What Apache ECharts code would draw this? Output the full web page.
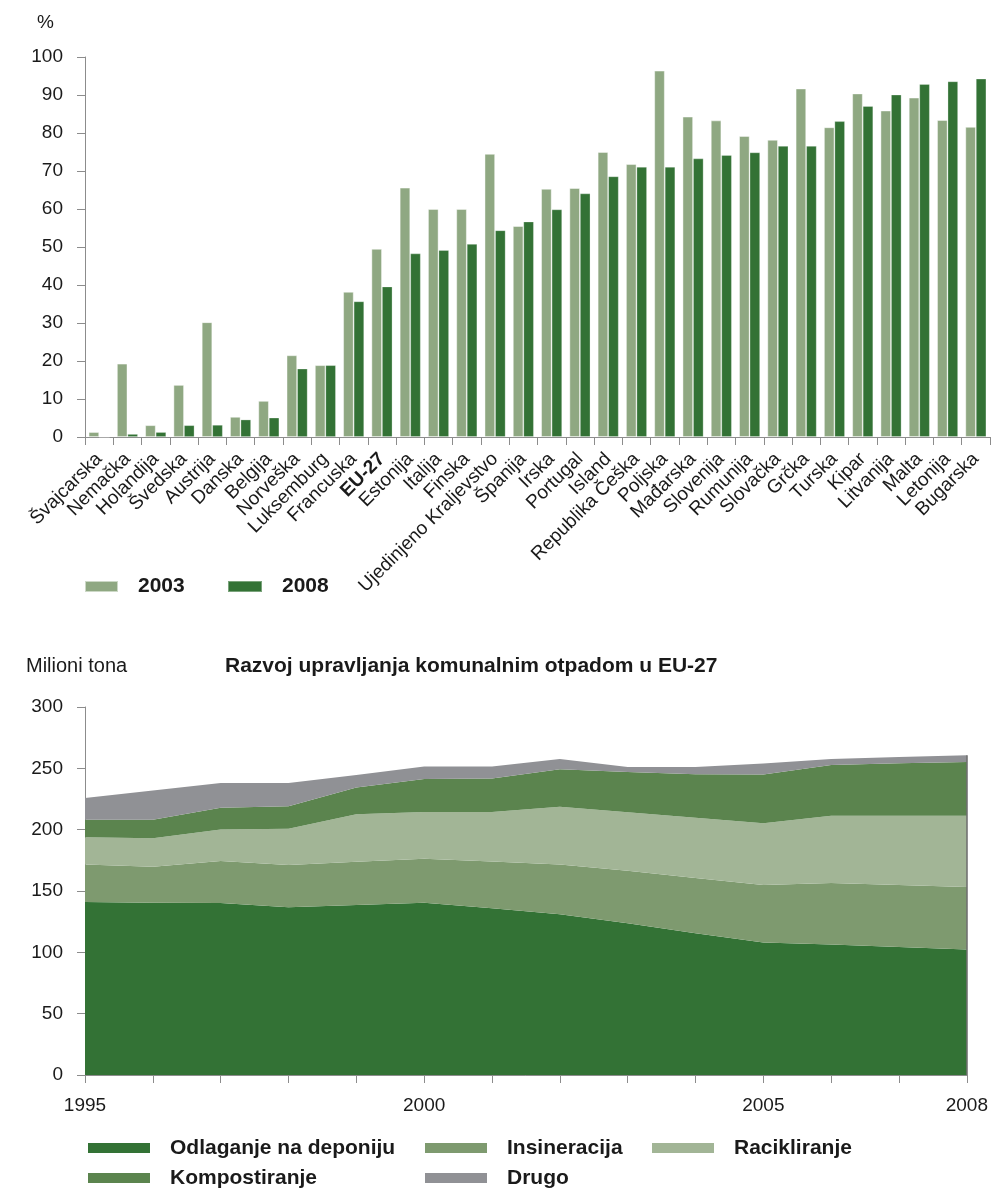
<!DOCTYPE html>
<html>
<head>
<meta charset="utf-8">
<script src="https://cdn.jsdelivr.net/npm/echarts@6/dist/echarts.min.js"></script>
<style>
html,body{margin:0;padding:0;background:#fff;}
#c{width:991px;height:1189px;}
</style>
</head>
<body>
<div id="c"></div>
<script>
// ---- Top chart data (%) ----
const countries = ['Švajcarska','Nemačka','Holandija','Švedska','Austrija','Danska','Belgija','Norveška','Luksemburg','Francuska','EU-27','Estonija','Italija','Finska','Ujedinjeno Kraljevstvo','Španija','Irska','Portugal','Island','Republika Češka','Poljska','Mađarska','Slovenija','Rumunija','Slovačka','Grčka','Turska','Kipar','Litvanija','Malta','Letonija','Bugarska'];
const values2003 = [1.3,19.3,3.1,13.7,30.2,5.3,9.5,21.5,18.9,38.2,49.5,65.6,60.0,60.0,74.5,55.5,65.3,65.5,75.0,71.8,96.4,84.3,83.3,79.2,78.2,91.7,81.5,90.4,85.9,89.3,83.4,81.6];
const values2008 = [0,0.8,1.3,3.1,3.2,4.6,5.1,18.0,18.9,35.7,39.6,48.3,49.2,50.8,54.4,56.7,59.9,64.1,68.6,71.1,71.1,73.3,74.2,74.9,76.6,76.6,83.1,87.1,90.1,92.9,93.6,94.3];
const topTicks = [0,10,20,30,40,50,60,70,80,90,100];

// ---- Bottom chart data (million tonnes) ----
const years = ['1995','1996','1997','1998','1999','2000','2001','2002','2003','2004','2005','2006','2007','2008'];
const yearLabels = ['1995','2000','2005','2008'];
const deponija = [141.0,140.5,140.2,136.7,138.6,140.5,135.9,131.0,123.7,115.5,108.0,106.3,104.4,102.3];
const insineracija = [30.7,29.3,34.2,34.4,35.3,35.8,38.2,40.7,42.8,45.1,46.9,50.2,50.5,50.9];
const recikliranje = [22.2,23.3,25.8,29.6,38.7,38.2,40.4,46.9,47.8,49.1,50.4,54.8,56.4,58.1];
const kompostiranje = [14.1,14.9,17.6,18.4,21.7,26.9,27.2,30.7,32.8,35.5,39.6,41.5,42.8,43.9];
const drugo = [17.9,23.9,20.3,19.0,10.3,10.0,9.7,8.4,4.0,5.9,9.0,4.9,5.2,5.4];

const FONT = '"Liberation Sans", Arial, Helvetica, sans-serif';
const TXT = '#1a1a1a';
const AX = '#8c8c8c';
const C2003 = '#8fa882', C2008 = '#337235';
const CDEP = '#337235', CINS = '#7e9a6f', CREC = '#a2b596', CKOM = '#5b844e', CDRU = '#909195';

const lastIdx = years.length - 1;
const lastTotal = deponija[lastIdx] + insineracija[lastIdx] + recikliranje[lastIdx] + kompostiranje[lastIdx] + drugo[lastIdx];

function legendAt(name, left, top, w, h) {
  return {
    data: [name], left: left, top: top, padding: 0, orient: 'horizontal',
    itemWidth: w, itemHeight: h, icon: 'rect', selectedMode: false,
    textStyle: { fontFamily: FONT, fontSize: 21, fontWeight: 'bold', color: TXT, padding: [0,0,0,15], lineHeight: 24 }
  };
}

const chart = echarts.init(document.getElementById('c'), null, { renderer: 'canvas' });
chart.setOption({
  animation: false,
  textStyle: { fontFamily: FONT },
  graphic: [
    { type: 'text', left: 37, top: 13, style: { text: '%', fontFamily: FONT, fontSize: 19, fill: TXT } },
    { type: 'text', left: 26, top: 656, style: { text: 'Milioni tona', fontFamily: FONT, fontSize: 20, fill: TXT } },
    { type: 'text', left: 225, top: 656, style: { text: 'Razvoj upravljanja komunalnim otpadom u EU-27', fontFamily: FONT, fontSize: 21, fontWeight: 'bold', fill: TXT } }
  ],
  legend: [
    legendAt('2003', 84, 574.5, 33, 11),
    legendAt('2008', 227, 574.5, 34, 11),
    legendAt('Odlaganje na deponiju', 88, 1136, 62, 10),
    legendAt('Insineracija', 425, 1136, 62, 10),
    legendAt('Racikliranje', 652, 1136, 62, 10),
    legendAt('Kompostiranje', 88, 1166, 62, 10),
    legendAt('Drugo', 425, 1166, 62, 10)
  ],
  grid: [
    { left: 85, top: 57, width: 905, height: 380 },
    { left: 85, top: 707, width: 884, height: 368 }
  ],
  xAxis: [
    {
      type: 'category', gridIndex: 0, data: countries, boundaryGap: true,
      axisLine: { lineStyle: { color: AX, width: 1 } },
      axisTick: { show: true, length: 8, interval: 0, lineStyle: { color: AX } },
      axisLabel: {
        interval: 0, rotate: 45, margin: 19, fontFamily: FONT, fontSize: 19, color: TXT,
        formatter: v => v === 'EU-27' ? '{b|EU-27}' : v,
        rich: { b: { fontFamily: FONT, fontSize: 19, fontWeight: 'bold', color: TXT } }
      }
    },
    {
      type: 'category', gridIndex: 1, data: years, boundaryGap: false,
      axisLine: { lineStyle: { color: AX, width: 1 } },
      axisTick: { show: true, length: 8, interval: 0, lineStyle: { color: AX } },
      axisLabel: {
        margin: 21, fontFamily: FONT, fontSize: 19, color: TXT,
        interval: (i, v) => yearLabels.indexOf(v) >= 0
      }
    }
  ],
  yAxis: [
    {
      type: 'value', gridIndex: 0, min: topTicks[0], max: topTicks[topTicks.length-1], interval: 10,
      axisLine: { show: true, lineStyle: { color: AX } },
      axisTick: { show: true, length: 8, lineStyle: { color: AX } },
      splitLine: { show: false },
      axisLabel: { margin: 22, fontFamily: FONT, fontSize: 19, color: TXT }
    },
    {
      type: 'value', gridIndex: 1, min: 0, max: 300, interval: 50,
      axisLine: { show: true, lineStyle: { color: AX } },
      axisTick: { show: true, length: 8, lineStyle: { color: AX } },
      splitLine: { show: false },
      axisLabel: { margin: 22, fontFamily: FONT, fontSize: 19, color: TXT }
    }
  ],
  series: [
    { name: '2003', type: 'bar', xAxisIndex: 0, yAxisIndex: 0, data: values2003, barWidth: 10.5, barGap: '0%',
      itemStyle: { color: C2003, borderColor: 'rgba(255,255,255,0.55)', borderWidth: 0.8 } },
    { name: '2008', type: 'bar', xAxisIndex: 0, yAxisIndex: 0, data: values2008, barWidth: 10.5, barGap: '0%',
      itemStyle: { color: C2008, borderColor: 'rgba(255,255,255,0.35)', borderWidth: 0.8 } },

    { name: 'Odlaganje na deponiju', type: 'line', xAxisIndex: 1, yAxisIndex: 1, stack: 'w', data: deponija,
      symbol: 'none', lineStyle: { width: 0 }, areaStyle: { color: CDEP, opacity: 1 }, itemStyle: { color: CDEP } },
    { name: 'Insineracija', type: 'line', xAxisIndex: 1, yAxisIndex: 1, stack: 'w', data: insineracija,
      symbol: 'none', lineStyle: { width: 0 }, areaStyle: { color: CINS, opacity: 1 }, itemStyle: { color: CINS } },
    { name: 'Racikliranje', type: 'line', xAxisIndex: 1, yAxisIndex: 1, stack: 'w', data: recikliranje,
      symbol: 'none', lineStyle: { width: 0 }, areaStyle: { color: CREC, opacity: 1 }, itemStyle: { color: CREC } },
    { name: 'Kompostiranje', type: 'line', xAxisIndex: 1, yAxisIndex: 1, stack: 'w', data: kompostiranje,
      symbol: 'none', lineStyle: { width: 0 }, areaStyle: { color: CKOM, opacity: 1 }, itemStyle: { color: CKOM } },
    { name: 'Drugo', type: 'line', xAxisIndex: 1, yAxisIndex: 1, stack: 'w', data: drugo,
      symbol: 'none', lineStyle: { width: 0 }, areaStyle: { color: CDRU, opacity: 1 }, itemStyle: { color: CDRU },
      markLine: { silent: true, symbol: 'none', label: { show: false },
        lineStyle: { color: '#6a6a6a', width: 1.5, type: 'solid' },
        data: [[ { coord: [years[lastIdx], 0] }, { coord: [years[lastIdx], lastTotal] } ]] } }
  ]
});
</script>
</body>
</html>
